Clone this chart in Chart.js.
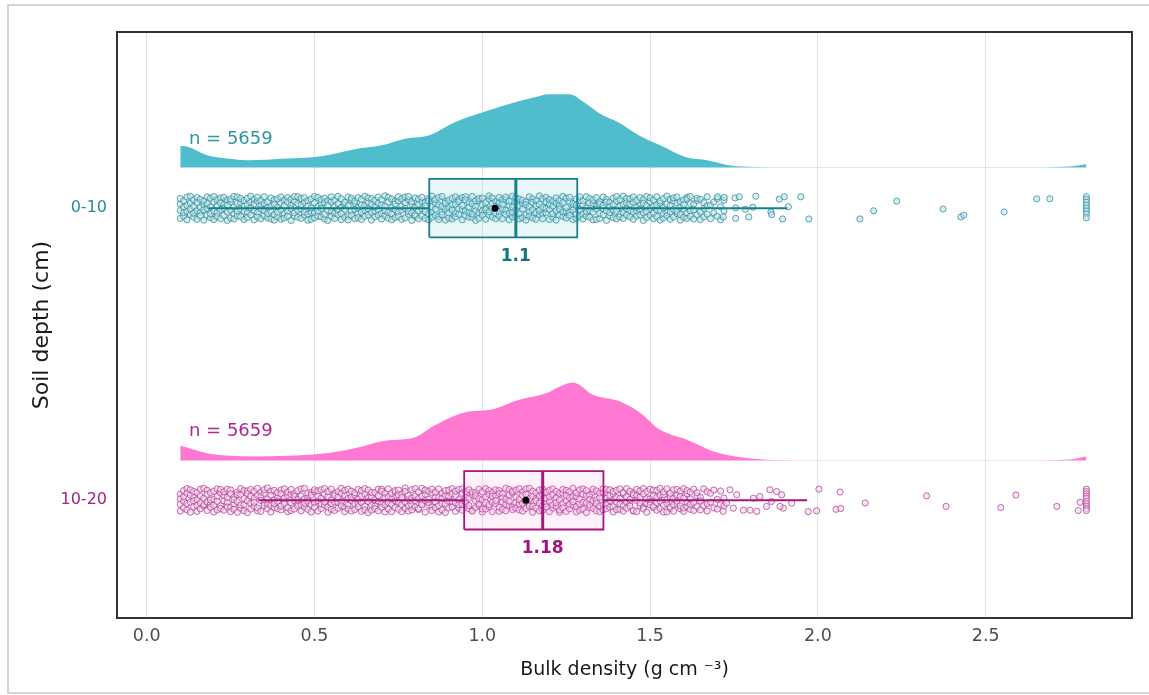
<!DOCTYPE html>
<html>
<head>
<meta charset="utf-8">
<title>Bulk density by soil depth</title>
<script src="https://cdn.jsdelivr.net/npm/chart.js@4/dist/chart.umd.min.js"></script>
<style>
  html, body { margin: 0; padding: 0; background: #fff; }
  canvas { display: block; }
</style>
</head>
<body>
<canvas id="rain" width="1149" height="695"></canvas>
<script>
/* Raincloud plot: bulk density (g cm-3) per soil depth, 0-10 and 10-20 cm */

const depthLabels = ['0-10', '10-20'];
const depthPos    = [2, 1];
const nObs        = [5659, 5659];
const q1          = [0.842, 0.946];
const medians     = [1.10, 1.18];
const q3          = [1.283, 1.361];
const whiskLo     = [0.184, 0.333];
const whiskHi     = [1.909, 1.968];
const means       = [1.038, 1.130];
const xTicks      = [0, 0.5, 1, 1.5, 2, 2.5];

// half-violin (density) outlines, height in y-axis units above the baseline
const densX_0_10 = [0.10,0.12,0.18,0.24,0.30,0.42,0.52,0.62,0.70,0.77,0.84,0.92,1.02,1.09,1.15,1.20,1.26,1.30,1.35,1.41,1.47,1.53,1.61,1.67,1.74,1.81,1.91,2.00,2.30,2.60,2.75,2.80];
const densH_0_10 = [0.074,0.072,0.042,0.031,0.025,0.031,0.039,0.063,0.076,0.099,0.110,0.156,0.196,0.221,0.239,0.251,0.251,0.226,0.185,0.152,0.108,0.076,0.034,0.025,0.007,0.002,0.001,0.001,0.001,0.001,0.004,0.011];
const densX_10_20 = [0.10,0.12,0.18,0.24,0.32,0.42,0.52,0.62,0.71,0.79,0.86,0.96,1.02,1.11,1.19,1.23,1.27,1.33,1.41,1.47,1.53,1.61,1.69,1.77,1.86,2.00,2.30,2.60,2.75,2.80];
const densH_10_20 = [0.051,0.045,0.025,0.017,0.014,0.016,0.023,0.042,0.068,0.076,0.122,0.168,0.173,0.208,0.230,0.253,0.267,0.225,0.202,0.164,0.105,0.071,0.031,0.011,0.002,0.001,0.001,0.001,0.004,0.014];

// jittered observations: [x in 1/100 g cm-3, jitter offsets in 1/1000 axis units...]
const cloud_0_10 = [
  [10,-35,-8,14,33],[11,25,-28,3,-15],[12,-40,38,-12,9],[13,17,-22,41,-3],[14,-31,6,28,-17],[15,36,-9,-38,19],[16,-14,30,-26,2],[17,11,-41,24,-6],[18,-24,39,-1,15],[19,4,-33,34,-19],
  [20,-39,21,-10,40],[21,29,-16,8,-29],[22,-5,35,-36,18],[23,13,-25,-2,37],[24,-42,27,10,-13],[25,22,-34,-7,31],[26,-20,4,40,-37],[27,38,-12,16,-27],[28,-29,19,-4,33],[29,7,-39,26,-11],
  [30,-17,34,-32,12],[31,41,-23,1,20],[32,-9,-40,29,14],[33,24,-15,37,-30],[34,-36,10,-3,26],[35,16,-26,39,-8],[36,-33,2,22,-18],[37,35,-11,-37,6],[38,-22,28,13,-41],[39,3,-30,32,-14],
  [40,-38,17,-6,38],[41,27,-19,9,-34],[42,-12,36,-28,21],[43,10,-42,30,-2],[44,-27,23,-16,40],[45,39,-7,15,-31],[46,-3,-35,33,11],[47,20,-24,-13,36],[48,-41,8,26,-20],[49,31,-14,1,-38],
  [50,-16,40,-33,18],[51,6,-27,37,-9],[52,-30,14,-1,29],[53,34,-37,19,-21],[54,-8,25,-42,10],[55,22,-12,39,-28],[56,-35,5,27,-17],[57,40,-22,-6,15],[58,-19,32,-39,3],[59,12,-31,20,-4],
  [60,-26,38,8,-40],[61,28,-10,-25,34],[62,-4,16,-36,24],[63,36,-19,2,-33],[64,-39,30,-14,11],[65,9,-28,41,-7],[66,-23,19,-2,35],[67,33,-41,13,-15],[68,-11,26,-30,4],[69,17,-6,38,-24],
  [70,-37,12,-18,29],[71,42,-26,6,-9],[72,-15,37,-34,21],[73,2,-20,31,-40],[74,-32,24,-5,14],[75,25,-13,39,-29],[76,-7,7,-38,32],[77,38,-33,18,-1],[78,-21,29,-11,40],[79,14,-42,23,-16],
  [80,-28,3,35,-23],[81,31,-8,-36,12],[82,-2,21,-27,37],[83,19,-35,8,-12],[84,-40,33,-19,25],[85,5,-15,41,-31],[86,-25,16,-4,30],[87,37,-29,11,-39],[88,-13,40,-22,6],[89,23,-3,-41,17],
  [90,-34,27,1,-16],[91,11,-37,34,-7],[92,-18,13,-30,39],[93,30,-21,22,-2],[94,-6,-40,9,36],[95,39,-10,28,-26],[96,-31,18,-14,3],[97,15,-32,40,-20],[98,-42,5,25,-9],[99,26,-17,-35,33],
  [100,-10,34,-24,12],[101,1,-38,19,-5],[102,-24,31,-12,42],[103,35,-1,-30,16],[104,-36,22,7,-18],[105,18,-26,37,-11],[106,-3,-36,29,13],[107,29,-8,-21,38],[108,-17,10,-40,24],[109,41,-30,4,-14],
  [110,-27,36,-6,20],[111,8,-19,31,-37],[112,-33,15,-2,27],[113,21,-41,12,-23],[114,-12,39,-28,5],[115,32,-5,20,-34],[116,-38,26,-15,9],[117,13,-22,42,-8],[118,-20,2,33,-36],[119,37,-16,-1,22],
  [120,-5,29,-39,14],[121,24,-31,7,-19],[122,-41,17,-9,35],[123,10,-24,26,-3],[124,-29,40,-13,19],[125,34,-11,-34,2],[126,-14,23,-25,37],[127,4,-39,15,-7],[128,-35,31,-20,10],[129,27,-4,39,-28],
  [130,-22,12,-37,25],[131,39,-27,1,-12],[132,-8,33,-31,18],[133,16,-14,28,-40],[134,-39,7,-3,36],[135,22,-35,14,-18],[136,-1,38,-23,9],[137,30,-9,-42,21],[138,-26,20,4,-15],[139,12,-33,34,-6],
  [140,-37,25,-11,40],[141,6,-20,29,-30],[142,-16,41,-35,13],[143,33,-2,18,-24],[144,-30,14,-7,32],[145,20,-38,38,-13],[146,-10,3,-27,27],[147,36,-23,10,-4],[148,-42,30,-16,16],[149,9,-12,40,-32],
  [150,-24,22,-1,35],[151,28,-36,6,-17],[152,-6,39,-29,11],[153,17,-8,25,-41],[154,-34,33,-19,2],[155,41,-15,14,-26],[156,-13,8,-38,30],[157,25,-30,35,-5],[158,-19,18,-10,38],[159,3,-41,22,-22],
  [160,-31,28,-3,12],[161,37,-18,31,-35],[162,-9,-28,16,40],[163,14,-37,-6],[164,-23,26,34],[165,30,-13,-39],[166,-1,19,-30],[167,39,-21,8],[168,-36,11],[169,21,-16],[170,-28,33],[171,5,-40],[172,27,-9]
];
const cloud_10_20 = [
  [10,21,-37,5,-14],[11,-26,33,-3,12],[12,40,-11,-33,24],[13,-7,18,-41,36],[14,30,-22,9,-2],[15,-38,2,27,-18],[16,15,-29,38,-9],[17,-20,41,-15,7],[18,34,-6,20,-35],[19,-12,26,-24,1],
  [20,3,-40,31,-17],[21,-33,13,-4,39],[22,25,-19,37,-28],[23,-1,-34,16,29],[24,38,-8,-23,10],[25,-24,35,-39,22],[26,11,-13,2,-31],[27,-41,28,19,-5],[28,19,-27,40,-16],[29,-15,6,-36,33],
  [30,32,-2,23,-42],[31,-30,37,-10,14],[32,7,-21,30,-7],[33,-36,17,-26,41],[34,27,-38,12,-1],[35,-9,24,-18,36],[36,42,-14,4,-29],[37,-18,31,-40,17],[38,1,-25,34,-11],[39,-29,9,-3,26],
  [40,35,-33,22,-20],[41,-4,39,-12,8],[42,16,-39,28,-26],[43,-35,20,-8,37],[44,22,-1,-30,13],[45,-13,33,-21,3],[46,39,-17,15,-36],[47,-23,5,41,-10],[48,8,-31,25,-3],[49,-40,27,-15,18],
  [50,29,-9,36,-24],[51,-2,14,-37,32],[52,36,-28,7,-13],[53,-17,40,-5,21],[54,13,-23,30,-41],[55,-31,1,-11,38],[56,24,-35,17,-6],[57,-8,29,-27,11],[58,41,-4,23,-19],[59,-25,16,-39,34],
  [60,6,-16,38,-30],[61,-37,31,-1,10],[62,18,-32,26,-12],[63,-11,37,-22,4],[64,33,-7,14,-38],[65,-21,21,-33,40],[66,9,-42,35,-4],[67,-34,12,-17,27],[68,26,-20,2,-29],[69,-3,38,-36,16],
  [70,38,-12,-24,31],[71,-16,23,8,-40],[72,12,-30,39,-8],[73,-39,4,-14,24],[74,28,-25,33,-2],[75,-6,35,-31,19],[76,20,-15,-39,9],[77,-28,42,-6,30],[78,4,-37,17,-20],[79,-19,8,37,-33],
  [80,40,-23,-1,14],[81,-32,29,-28,6],[82,14,-10,41,-16],[83,-1,-41,21,35],[84,31,-18,-7,3],[85,-23,25,-35,38],[86,10,-5,28,-26],[87,-40,39,-19,12],[88,23,-33,6,-11],[89,-13,17,-42,33],
  [90,35,-26,13,-3],[91,-5,40,-23,22],[92,17,-38,31,-9],[93,-27,2,-15,37],[94,39,-14,24,-34],[95,-10,30,-4,9],[96,7,-29,36,-18],[97,-35,19,-37,28],[98,26,-2,15,-25],[99,-18,38,-12,5],
  [100,2,-40,29,-30],[101,-30,11,-8,40],[102,33,-22,20,-15],[103,-7,27,-39,14],[104,15,-12,36,-1],[105,-38,33,-24,23],[106,22,-31,8,-6],[107,-14,4,41,-36],[108,37,-19,-3,18],[109,-24,25,-32,31],
  [110,11,-8,35,-27],[111,-33,40,-13,2],[112,29,-37,17,-10],[113,-4,21,-28,39],[114,41,-16,5,-21],[115,-20,31,-41,13],[116,5,-27,26,-2],[117,-36,15,-9,35],[118,19,-34,38,-18],[119,-12,7,-23,28],
  [120,34,-3,12,-39],[121,-27,39,-16,20],[122,8,-21,30,-8],[123,-41,24,-33,1],[124,24,-11,37,-26],[125,-2,34,-38,16],[126,30,-29,9,-14],[127,-17,13,-5,41],[128,13,-40,26,-22],[129,-34,36,-12,4],
  [130,39,-7,21,-31],[131,-9,17,-42,33],[132,18,-25,3,-17],[133,-28,28,-2,38],[134,2,-36,32,-10],[135,-39,10,-20,25],[136,27,-15,40,-33],[137,-15,37,-29,7],[138,36,-1,16,-24],[139,-22,22,-40,30],
  [140,9,-32,34,-6],[141,-31,6,-13,39],[142,23,-19,27,-37],[143,-6,40,-27,12],[144,31,-10,3,-20],[145,-37,26,-35,19],[146,16,-39,37,-1],[147,-19,11,-9,32],[148,40,-24,22,-30],[149,-11,30,-41,5],
  [150,5,-5,38,-16],[151,-25,35,-21,15],[152,34,-34,10,-8],[153,-3,18,-28,41],[154,20,-17,29,-40],[155,-40,39,-11,2],[156,12,-28,24,-23],[157,-16,6,-37,36],[158,37,-12,17,-3],[159,-29,31,-19,13],
  [160,7,-38,40,-26],[161,-21,23,-6,33],[162,28,-31,4,-14],[163,-8,38,-35],[164,15,-22,26],[165,-33,10,-2],[166,39,-18],[167,-12,29,-37],[168,24,-6],[169,-26,35],[170,3,-30],[171,32,-15],[172,-19,8]
];
// sparse tail and outliers: [x, jitter offset in axis units]
const tail_0_10 = [
  [1.701,0.039],[1.721,0.037],[1.753,0.035],[1.766,0.039],[1.815,0.041],[1.885,0.031],[1.900,0.039],[1.949,0.039],
  [1.755,0.001],[1.784,-0.004],[1.806,0.003],[1.860,-0.013],[1.862,-0.022],[1.912,0.005],[1.718,-0.030],[1.755,-0.035],
  [1.794,-0.030],[1.895,-0.037],[1.973,-0.037],
  [2.125,-0.037],[2.166,-0.009],[2.235,0.024],[2.373,-0.003],[2.426,-0.030],[2.435,-0.024],[2.555,-0.013],[2.652,0.032],[2.691,0.032],
  [2.8,0.039],[2.8,0.030],[2.8,0.020],[2.8,0.010],[2.8,0.0],[2.8,-0.010],[2.8,-0.020],[2.8,-0.033]
];
const tail_10_20 = [
  [1.738,0.036],[1.758,0.019],[1.778,-0.034],[1.748,-0.027],[1.798,-0.034],[1.718,-0.038],[1.728,-0.010],
  [1.857,0.036],[1.877,0.030],[1.892,0.019],[1.922,-0.010],[1.897,-0.027],[1.887,-0.021],[1.847,-0.021],[1.818,-0.038],
  [1.808,0.007],[1.827,0.013],[1.862,-0.004],
  [1.971,-0.039],[1.996,-0.036],[2.003,0.038],[2.054,-0.031],[2.066,0.028],[2.068,-0.028],[2.141,-0.009],[2.324,0.015],
  [2.382,-0.021],[2.545,-0.025],[2.590,0.018],[2.712,-0.021],[2.776,-0.035],[2.781,-0.007],
  [2.8,0.038],[2.8,0.030],[2.8,0.022],[2.8,0.014],[2.8,0.006],[2.8,-0.004],[2.8,-0.012],[2.8,-0.020],[2.8,-0.028],[2.8,-0.035]
];

// ---- styling ----
const FONT = "'DejaVu Sans', sans-serif";
const styles = [
  { dens: '#4fbdcb', line: '#167f8e', boxFill: 'rgba(79,189,203,0.12)', pt: 'rgba(38,132,148,0.8)', ptFill: 'rgba(190,228,234,0.6)',
    tick: '#2a8d9a', nText: '#2e95a3', medText: '#0f7583' },
  { dens: '#ff79d2', line: '#a3177f', boxFill: 'rgba(255,121,210,0.10)', pt: 'rgba(168,52,142,0.78)', ptFill: 'rgba(246,214,236,0.6)',
    tick: '#a5228a', nText: '#b0288f', medText: '#a3137d' }
];
const densBase = [0.139, 0.136];   // density baseline above category centre
const boxHalf  = 0.1;
const nLabelX  = 0.126, nLabelDy = 0.221, medLabelDy = -0.181;

const densX = [densX_0_10, densX_10_20];
const densH = [densH_0_10, densH_10_20];
const clouds = [cloud_0_10, cloud_10_20];
const tails = [tail_0_10, tail_10_20];

function cloudPoints(cols, tail, y0) {
  const pts = [];
  cols.forEach(c => { for (let i = 1; i < c.length; i++) pts.push({ x: c[0] / 100, y: y0 + c[i] / 1000 }); });
  tail.forEach(p => pts.push({ x: p[0], y: y0 + p[1] }));
  return pts;
}

const datasets = [];
depthPos.forEach((c, g) => {
  const s = styles[g];
  const base = c + densBase[g];
  datasets.push({
    label: 'density ' + depthLabels[g], order: 6, showLine: true,
    data: densX[g].map((x, i) => ({ x, y: base + densH[g][i] })),
    borderWidth: 0, borderColor: s.dens, backgroundColor: s.dens, pointRadius: 0,
    fill: { value: base }, cubicInterpolationMode: 'monotone'
  });
  datasets.push({
    label: 'obs ' + depthLabels[g], order: 5,
    data: cloudPoints(clouds[g], tails[g], c),
    pointRadius: 3.1, borderWidth: 0.9, borderColor: s.pt, backgroundColor: s.ptFill
  });
  datasets.push({
    label: 'box ' + depthLabels[g], order: 4, showLine: true, fill: 'shape', tension: 0,
    data: [{x:q1[g],y:c-boxHalf},{x:q3[g],y:c-boxHalf},{x:q3[g],y:c+boxHalf},{x:q1[g],y:c+boxHalf},{x:q1[g],y:c-boxHalf}],
    borderColor: s.line, borderWidth: 1.8, backgroundColor: s.boxFill, pointRadius: 0
  });
  [[whiskLo[g], q1[g]], [q3[g], whiskHi[g]]].forEach(w => datasets.push({
    label: 'whisker', order: 3, showLine: true,
    data: [{ x: w[0], y: c }, { x: w[1], y: c }],
    borderColor: s.line, borderWidth: 2, pointRadius: 0
  }));
  datasets.push({
    label: 'median', order: 2, showLine: true,
    data: [{ x: medians[g], y: c - boxHalf }, { x: medians[g], y: c + boxHalf }],
    borderColor: s.line, borderWidth: 3, pointRadius: 0
  });
  datasets.push({
    label: 'mean', order: 1, data: [{ x: means[g], y: c }],
    pointRadius: 3.5, backgroundColor: '#000', borderColor: '#000', borderWidth: 0
  });
});

const annotate = {
  id: 'annotate',
  beforeDraw(chart) {
    const ctx = chart.ctx;
    ctx.save();
    ctx.strokeStyle = '#d4d4d4'; ctx.lineWidth = 2;
    ctx.beginPath();
    ctx.moveTo(1149, 5); ctx.lineTo(8, 5); ctx.lineTo(8, 693); ctx.lineTo(1149, 693);
    ctx.stroke();
    ctx.restore();
  },
  afterDatasetsDraw(chart) {
    const { ctx, scales: { x, y } } = chart;
    ctx.save();
    depthPos.forEach((c, g) => {
      ctx.textBaseline = 'alphabetic';
      ctx.textAlign = 'left';
      ctx.font = '18px ' + FONT;
      ctx.fillStyle = styles[g].nText;
      ctx.fillText('n = ' + nObs[g], x.getPixelForValue(nLabelX), y.getPixelForValue(c + nLabelDy));
      ctx.textAlign = 'center';
      ctx.font = 'bold 17px ' + FONT;
      ctx.fillStyle = styles[g].medText;
      ctx.fillText(String(medians[g]), x.getPixelForValue(medians[g]), y.getPixelForValue(c + medLabelDy));
    });
    ctx.restore();
  },
  afterDraw(chart) {
    const { ctx, chartArea: a } = chart;
    ctx.save();
    ctx.strokeStyle = '#333'; ctx.lineWidth = 2;
    ctx.strokeRect(a.left, a.top, a.right - a.left, a.bottom - a.top);
    ctx.restore();
  }
};

new Chart(document.getElementById('rain'), {
  type: 'scatter',
  data: { datasets },
  plugins: [annotate],
  options: {
    responsive: false, animation: false,
    layout: { padding: { top: 32, right: 17, bottom: 0, left: 0 } },
    plugins: { legend: { display: false }, tooltip: { enabled: false } },
    scales: {
      x: {
        type: 'linear', min: -0.0885, max: 2.936,
        afterBuildTicks: s => { s.ticks = xTicks.map(v => ({ value: v })); },
        afterFit: s => { s.height = 77; },
        ticks: { color: '#4d4d4d', font: { family: FONT, size: 17.5 }, padding: 8, callback: v => v.toFixed(1), maxRotation: 0 },
        grid: { color: '#e3e3e3', lineWidth: 1, drawTicks: false },
        border: { display: false },
        title: { display: true, text: 'Bulk density (g cm \u207B\u00B3)', color: '#1a1a1a',
                 font: { family: FONT, size: 19 }, padding: { top: 14, bottom: 14 } }
      },
      y: {
        type: 'linear', min: 0.597, max: 2.603,
        afterBuildTicks: s => { s.ticks = depthPos.map(v => ({ value: v })); },
        afterFit: s => { s.width = 117; },
        ticks: { color: c => styles[depthPos.indexOf(c.tick.value)].tick, font: { family: FONT, size: 16 }, padding: 10,
                 callback: v => depthLabels[depthPos.indexOf(v)] },
        grid: { display: false, drawTicks: false },
        border: { display: false },
        title: { display: true, text: 'Soil depth (cm)', color: '#1a1a1a',
                 font: { family: FONT, size: 22 }, padding: { top: 29, bottom: 29 } }
      }
    }
  }
});
</script>
</body>
</html>
